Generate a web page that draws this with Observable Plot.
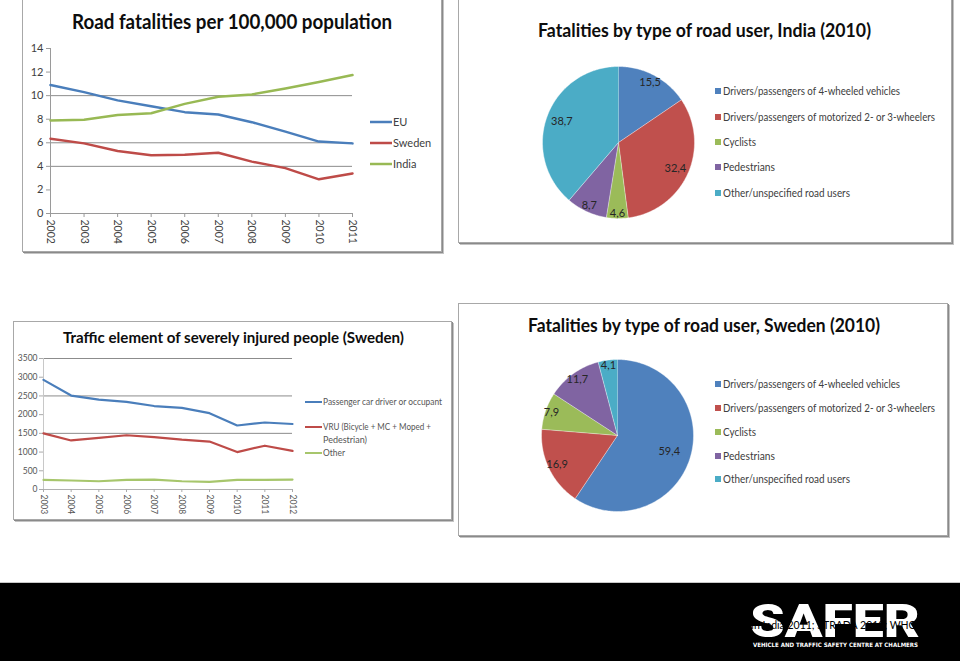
<!DOCTYPE html>
<html><head><meta charset="utf-8">
<script src="https://cdn.jsdelivr.net/npm/d3@7"></script>
<script src="https://cdn.jsdelivr.net/npm/@observablehq/plot@0.6"></script>
<style>
html,body{margin:0;padding:0;background:#fff;}
#page{position:relative;width:960px;height:661px;overflow:hidden;background:#fff;font-family:Lato,"Open Sans",sans-serif;}
.frame{position:absolute;border:1px solid #a8a8a8;box-shadow:1px 1px 0 #8a8a8a,2px 2px 0 #c4c4c4;background:#fff;box-sizing:border-box;}
.chart{position:absolute;}
.chart svg{overflow:visible;display:block;}
#footer{position:absolute;left:0;top:582px;width:960px;height:79px;background:#000;border-top:1px solid #c8c8c8;box-sizing:border-box;}
#overlay{position:absolute;left:0;top:0;pointer-events:none;}
</style></head>
<body><div id="page">
<div class="frame" style="left:22px;top:-6px;width:420px;height:258px"></div>
<div class="frame" style="left:458px;top:-6px;width:494px;height:249px"></div>
<div class="frame" style="left:13px;top:321px;width:439px;height:199px"></div>
<div class="frame" style="left:458px;top:303px;width:490px;height:233px"></div>
<div id="footer"></div>
<div class="chart" id="c1" style="left:22px;top:0px"></div>
<div class="chart" id="c2" style="left:542px;top:66px"></div>
<div class="chart" id="c3" style="left:13px;top:321px"></div>
<div class="chart" id="c4" style="left:541px;top:359px"></div>
<svg id="overlay" width="960" height="661"></svg>
</div>
<script>
// ---------- data ----------
const years1 = [2002, 2003, 2004, 2005, 2006, 2007, 2008, 2009, 2010, 2011];
const series1 = ["EU", "Sweden", "India"];
const euRate = [10.9, 10.3, 9.6, 9.1, 8.6, 8.4, 7.75, 6.95, 6.1, 5.95];
const swedenRate = [6.35, 5.95, 5.3, 4.95, 4.98, 5.15, 4.4, 3.85, 2.9, 3.4];
const indiaRate = [7.9, 7.95, 8.35, 8.5, 9.3, 9.9, 10.1, 10.6, 11.15, 11.75];
const yTicks1 = [0, 2, 4, 6, 8, 10, 12, 14];
const grid1 = [4, 6, 10];

const years3 = [2003, 2004, 2005, 2006, 2007, 2008, 2009, 2010, 2011, 2012];
const series3 = ["Passenger car driver or occupant", "VRU (Bicycle + MC + Moped + Pedestrian)", "Other"];
const carInjured = [2930, 2510, 2400, 2340, 2230, 2180, 2040, 1710, 1790, 1750];
const vruInjured = [1500, 1310, 1380, 1450, 1400, 1330, 1280, 1000, 1170, 1030];
const otherInjured = [255, 240, 220, 255, 265, 220, 205, 255, 255, 265];
const yTicks3 = [0, 500, 1000, 1500, 2000, 2500, 3000, 3500];
const grid3 = [1500, 2500, 3500];

const roadUsers = ["Drivers/passengers of 4-wheeled vehicles", "Drivers/passengers of motorized 2- or 3-wheelers", "Cyclists", "Pedestrians", "Other/unspecified road users"];
const indiaShares = [15.5, 32.4, 4.6, 8.7, 38.7];
const swedenShares = [59.4, 16.9, 7.9, 11.7, 4.1];

const titles = ["Road fatalities per 100,000 population", "Fatalities by type of road user, India (2010)", "Traffic element of severely injured people (Sweden)", "Fatalities by type of road user, Sweden (2010)"];
const sourceText = "Sources: IRTAD 2013; Road Accidents in India 2011; STRADA 2013; WHO";

// ---------- styles ----------
const lineColors = ["#4a7ebb", "#be4b48", "#98b954"];
const pieColors = ["#4f81bd", "#c0504d", "#9bbb59", "#8064a2", "#4bacc6"];
const FONT = "Lato, 'Open Sans', sans-serif";
const comma = v => String(v).replace(".", ",");

// ---------- chart 1 ----------
const rows1 = years1.flatMap((yr, i) => [
  {year: yr, series: "EU", value: euRate[i]},
  {year: yr, series: "Sweden", value: swedenRate[i]},
  {year: yr, series: "India", value: indiaRate[i]}
]);
document.getElementById("c1").append(Plot.plot({
  width: 419, height: 251, marginLeft: 28, marginRight: 89, marginTop: 48, marginBottom: 38,
  x: {domain: [2002, 2011]}, y: {domain: [0, 14]},
  color: {domain: series1, range: lineColors},
  style: {fontFamily: FONT, fontSize: "11px", color: "#404040", background: "transparent"},
  marks: [
    Plot.ruleY(grid1, {stroke: "#8c8c8c", strokeWidth: 1}),
    Plot.ruleX([2002], {stroke: "#9a9a9a"}),
    Plot.ruleY([0], {stroke: "#9a9a9a"}),
    Plot.axisY({ticks: yTicks1, tickFormat: d => String(d), tickSize: 4, tickPadding: 3, label: null, stroke: "#9a9a9a", fontSize: 11}),
    Plot.axisX({ticks: years1, tickFormat: d => String(d), tickRotate: 90, tickSize: 4, tickPadding: 2, label: null, stroke: "#9a9a9a", fontSize: 10.5}),
    Plot.line(rows1, {x: "year", y: "value", z: "series", stroke: "series", strokeWidth: 2.5})
  ]
}));

// ---------- chart 3 ----------
const rows3 = years3.flatMap((yr, i) => [
  {year: yr, series: series3[0], value: carInjured[i]},
  {year: yr, series: series3[1], value: vruInjured[i]},
  {year: yr, series: series3[2], value: otherInjured[i]}
]);
document.getElementById("c3").append(Plot.plot({
  width: 439, height: 198, marginLeft: 30, marginRight: 160, marginTop: 37, marginBottom: 30,
  x: {domain: [2003, 2012]}, y: {domain: [0, 3500]},
  color: {domain: series3, range: ["#4a7ebb", "#be4b48", "#a7c66c"]},
  style: {fontFamily: FONT, fontSize: "8.5px", color: "#555", background: "transparent"},
  marks: [
    Plot.ruleY(grid3, {stroke: "#8c8c8c", strokeWidth: 1}),
    Plot.ruleX([2003], {stroke: "#c8c8c8"}),
    Plot.ruleY([0], {stroke: "#b0b0b0"}),
    Plot.axisY({ticks: yTicks3, tickFormat: d => String(d), tickSize: 4, tickPadding: 2, label: null, stroke: "#aaa", fontSize: 8.5}),
    Plot.axisX({ticks: years3, tickFormat: d => String(d), tickRotate: 90, tickSize: 3, tickPadding: 2, label: null, stroke: "#aaa", fontSize: 8.5}),
    Plot.line(rows3, {x: "year", y: "value", z: "series", stroke: "series", strokeWidth: 2.2})
  ]
}));

// ---------- pies ----------
function pieChart(shares) {
  const arcs = d3.pie().sort(null).value(d => d)(shares);
  const pts = [];
  arcs.forEach((a, i) => {
    const n = Math.max(3, Math.ceil((a.endAngle - a.startAngle) / (Math.PI / 180)));
    pts.push({k: roadUsers[i], x: 0, y: 0});
    for (let j = 0; j <= n; j++) {
      const t = a.startAngle + (a.endAngle - a.startAngle) * j / n;
      pts.push({k: roadUsers[i], x: Math.sin(t), y: Math.cos(t)});
    }
  });
  const labels = arcs.map((a, i) => {
    const m = (a.startAngle + a.endAngle) / 2;
    const r = 0.95 - 0.4 * a.data / 100;
    return {x: r * Math.sin(m), y: r * Math.cos(m), text: comma(a.data), k: roadUsers[i]};
  });
  return Plot.plot({
    width: 152, height: 152, margin: 0,
    x: {domain: [-1, 1], axis: null}, y: {domain: [-1, 1], axis: null},
    color: {domain: roadUsers, range: pieColors},
    style: {fontFamily: FONT, background: "transparent"},
    marks: [
      Plot.line(pts, {x: "x", y: "y", z: "k", fill: "k", stroke: "#ffffff", strokeWidth: 0.6, strokeOpacity: 0.7}),
      Plot.text(labels, {x: "x", y: "y", text: "text", fontSize: 11, fill: "#262626"})
    ]
  });
}
document.getElementById("c2").append(pieChart(indiaShares));
document.getElementById("c4").append(pieChart(swedenShares));

// ---------- overlay texts, legends, logo ----------
const ov = d3.select("#overlay");
function txt(x, y, s, size, opts = {}) {
  const t = ov.append("text").attr("x", x).attr("y", y).text(s)
    .attr("font-family", opts.family || FONT).attr("font-size", size)
    .attr("font-weight", opts.weight || 400).attr("fill", opts.fill || "#000")
    .attr("text-anchor", opts.anchor || "start");
  if (opts.len) t.attr("textLength", opts.len).attr("lengthAdjust", "spacingAndGlyphs");
  return t;
}
// titles
txt(232, 29, titles[0], 20, {weight: 700, anchor: "middle", len: 320, fill: "#0d0d0d"});
txt(704.5, 36.5, titles[1], 18, {weight: 700, anchor: "middle", len: 333, fill: "#0d0d0d"});
txt(233.5, 343, titles[2], 16, {weight: 700, anchor: "middle", len: 341, fill: "#0d0d0d"});
txt(704, 331.5, titles[3], 18, {weight: 700, anchor: "middle", len: 352, fill: "#0d0d0d"});

// legend chart 1
const leg1Y = [122, 143, 164];
series1.forEach((s, i) => {
  ov.append("line").attr("x1", 370).attr("x2", 392).attr("y1", leg1Y[i]).attr("y2", leg1Y[i])
    .attr("stroke", lineColors[i]).attr("stroke-width", 2.5);
  txt(393, leg1Y[i] + 4, s, 11, {fill: "#404040"});
});

// legend chart 3
const leg3Y = [402, 427, 453];
const leg3Col = ["#4a7ebb", "#be4b48", "#a7c66c"];
series3.forEach((s, i) => {
  ov.append("line").attr("x1", 305).attr("x2", 322).attr("y1", leg3Y[i]).attr("y2", leg3Y[i])
    .attr("stroke", leg3Col[i]).attr("stroke-width", 2);
});
txt(323, 405, series3[0], 8.5, {fill: "#555", len: 119});
txt(323, 430, "VRU (Bicycle + MC + Moped +", 8.5, {fill: "#555", len: 108});
txt(323, 443, "Pedestrian)", 8.5, {fill: "#555", len: 44});
txt(323, 456, series3[2], 8.5, {fill: "#555", len: 22});

// pie legends
const legLens = [177, 212, 33, 52, 127];
function pieLegend(ys) {
  roadUsers.forEach((s, i) => {
    ov.append("rect").attr("x", 715).attr("y", ys[i] - 3).attr("width", 6).attr("height", 6).attr("fill", pieColors[i]);
    txt(723, ys[i] + 3.5, s, 10.5, {fill: "#404040", len: legLens[i]});
  });
}
pieLegend([91, 117, 142, 167, 193]);
pieLegend([384, 408, 432, 456, 479]);

// footer logo (the source line is dark text that only shows where it crosses the white logo)
txt(750, 637, "SAFER", 46, {family: "Roboto, 'DejaVu Sans', sans-serif", weight: 900, fill: "#fff", len: 170});
txt(753, 647, "VEHICLE AND TRAFFIC SAFETY CENTRE AT CHALMERS", 6, {family: "'DejaVu Sans', sans-serif", weight: 700, fill: "#fff", len: 165});
txt(917, 629, sourceText, 10.5, {fill: "#000", anchor: "end"});
</script>
</body></html>
